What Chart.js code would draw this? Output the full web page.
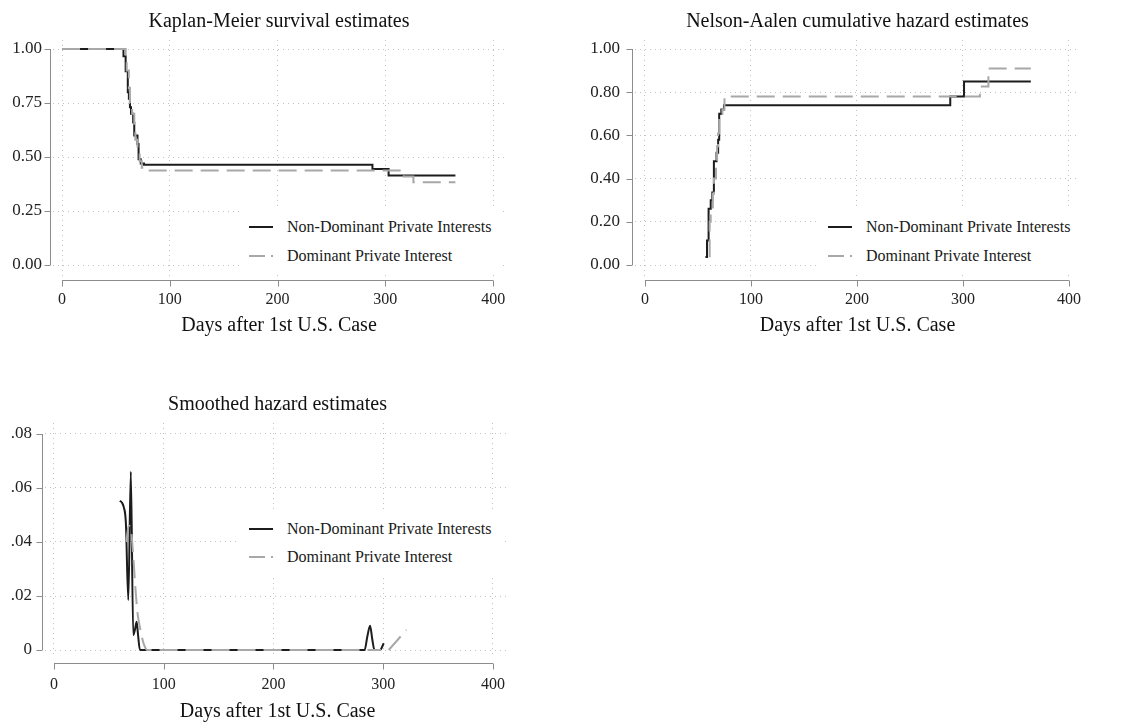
<!DOCTYPE html>
<html>
<head>
<meta charset="utf-8">
<script src="https://cdn.jsdelivr.net/npm/chart.js@4.4.0/dist/chart.umd.min.js"></script>
<style>
  body { margin: 0; background: #fff; width: 1129px; height: 722px; overflow: hidden; position: relative; font-family: "Liberation Serif", "Times New Roman", serif; }
  .panel { position: absolute; }
  .legend { position: absolute; background: #fff; }
  .legend .sw { position: absolute; width: 24px; height: 2px; }
  .legend .txt { position: absolute; font-size: 16px; line-height: 20px; color: #1a1a1a; white-space: nowrap; }
</style>
</head>
<body>
<canvas id="km" class="panel" width="560" height="345" style="left:0;top:0"></canvas>
<canvas id="na" class="panel" width="569" height="345" style="left:560px;top:0"></canvas>
<canvas id="sh" class="panel" width="560" height="341" style="left:0;top:383px"></canvas>

<script>
// series names
const seriesNames = ["Non-Dominant Private Interests", "Dominant Private Interest"];
const xTicks = [0, 100, 200, 300, 400];
const xTitle = "Days after 1st U.S. Case";

// Kaplan-Meier survival
const kmYTicks = [0, 0.25, 0.5, 0.75, 1];
const kmYLabels = ["0.00", "0.25", "0.50", "0.75", "1.00"];
const kmNonDomDays = [0, 57, 59, 61, 62, 63, 64, 66, 67, 70, 71, 73, 76, 288, 303, 365];
const kmNonDomSurv = [1.00, 0.966, 0.897, 0.80, 0.77, 0.73, 0.70, 0.66, 0.60, 0.56, 0.49, 0.47, 0.464, 0.444, 0.414, 0.414];
const kmDomDays = [0, 59, 60, 62, 63, 65, 67, 68, 70, 72, 74, 77, 317, 326, 365];
const kmDomSurv = [1.00, 0.97, 0.90, 0.82, 0.75, 0.70, 0.63, 0.58, 0.53, 0.48, 0.45, 0.438, 0.41, 0.383, 0.383];

// Nelson-Aalen cumulative hazard
const naYTicks = [0, 0.2, 0.4, 0.6, 0.8, 1];
const naYLabels = ["0.00", "0.20", "0.40", "0.60", "0.80", "1.00"];
const naNonDomDays = [57, 58.5, 60, 62, 63.5, 65, 67.5, 69, 70, 72, 74.5, 288, 301, 364];
const naNonDomHaz = [0.037, 0.114, 0.26, 0.30, 0.336, 0.48, 0.52, 0.58, 0.70, 0.72, 0.74, 0.78, 0.85, 0.85];
const naDomDays = [60, 61, 62, 64, 65, 67, 68, 69, 70, 73, 75, 316, 324, 364];
const naDomHaz = [0.04, 0.20, 0.26, 0.33, 0.40, 0.47, 0.55, 0.61, 0.70, 0.72, 0.78, 0.826, 0.91, 0.91];

// Smoothed hazard
const shYTicks = [0, 0.02, 0.04, 0.06, 0.08];
const shYLabels = ["0", ".02", ".04", ".06", ".08"];
const shNonDomDays = [60, 62, 63.5, 65.5, 67.7, 70, 72.2, 74, 75.3, 76.5, 78.3, 283, 285.5, 288, 290, 292, 297, 300.5];
const shNonDomHaz = [0.0553, 0.0545, 0.053, 0.047, 0.0185, 0.066, 0.0056, 0.008, 0.0105, 0.006, 0, 0, 0.005, 0.009, 0.004, 0, 0, 0.0025];
const shDomDays = [66, 68, 70, 72, 74, 76, 78, 80, 82, 85, 298, 299, 305, 321];
const shDomHaz = [0.040, 0.046, 0.045, 0.036, 0.024, 0.014, 0.009, 0.005, 0.002, 0, 0, null, 0, 0.0074];

const BLACK = "#1c1c1c";
const GREY = "#a8a8a8";
const FONT = "'Liberation Serif', 'Times New Roman', serif";

function pts(xs, ys) {
  return xs.map((x, i) => ({ x: x, y: ys[i] }));
}

// Stata-like axis lines, drawn apart from the plot region
const stataAxes = {
  id: "stataAxes",
  afterDraw(chart, args, opts) {
    const { ctx, chartArea } = chart;
    const x = chart.scales.x, y = chart.scales.y;
    ctx.save();
    ctx.strokeStyle = "#8c8c8c";
    ctx.lineWidth = 1;
    ctx.beginPath();
    const ax = Math.round(chartArea.left - opts.yGap) + 0.5;
    const yt = y.ticks;
    ctx.moveTo(ax, y.getPixelForValue(yt[0].value));
    ctx.lineTo(ax, y.getPixelForValue(yt[yt.length - 1].value));
    yt.forEach(t => {
      const p = Math.round(y.getPixelForValue(t.value)) + 0.5;
      ctx.moveTo(ax, p);
      ctx.lineTo(ax - 6, p);
    });
    const ay = Math.round(chartArea.bottom + opts.xGap) + 0.5;
    const xt = x.ticks;
    ctx.moveTo(x.getPixelForValue(xt[0].value), ay);
    ctx.lineTo(x.getPixelForValue(xt[xt.length - 1].value), ay);
    xt.forEach(t => {
      const p = Math.round(x.getPixelForValue(t.value)) + 0.5;
      ctx.moveTo(p, ay);
      ctx.lineTo(p, ay + 6);
    });
    ctx.stroke();
    ctx.restore();
  }
};

function makePanel(id, p) {
  return new Chart(document.getElementById(id), {
    type: "line",
    data: {
      datasets: [
        { label: seriesNames[0], data: p.black, borderColor: BLACK, borderWidth: 2, pointRadius: 0,
          stepped: p.stepped, cubicInterpolationMode: p.stepped ? "default" : "monotone", order: 1 },
        { label: seriesNames[1], data: p.grey, borderColor: GREY, borderWidth: 2, pointRadius: 0,
          borderDash: [18, 8], stepped: p.stepped, cubicInterpolationMode: p.stepped ? "default" : "monotone", order: 0 }
      ]
    },
    options: {
      responsive: false,
      animation: false,
      devicePixelRatio: 1,
      layout: { padding: { left: 0, right: p.padRight, top: 0, bottom: 0 } },
      plugins: {
        legend: { display: false },
        tooltip: { enabled: false },
        title: {
          display: true, text: p.title, fullSize: false, color: "#111",
          font: { family: FONT, size: 20, weight: "normal" },
          padding: { top: 10, bottom: 6 }
        },
        stataAxes: { xGap: p.xGap, yGap: 3 }
      },
      scales: {
        x: {
          type: "linear", min: p.xMin, max: p.xMax,
          afterBuildTicks: s => { s.ticks = xTicks.map(v => ({ value: v })); },
          afterFit: s => { s.height = p.xHeight; },
          grid: { color: "#c2c2c2", lineWidth: 1, drawTicks: false },
          border: { display: false, dash: [1, 4] },
          ticks: { color: "#222", padding: p.xPad, maxRotation: 0, font: { family: FONT, size: 16 } },
          title: { display: true, text: xTitle, color: "#111", font: { family: FONT, size: 20 }, padding: { top: 0, bottom: p.xTitlePad } }
        },
        y: {
          type: "linear", min: p.yMin, max: p.yMax,
          afterBuildTicks: s => { s.ticks = p.yTicks.map(v => ({ value: v })); },
          afterFit: s => { s.width = p.yWidth; },
          grid: { color: "#c2c2c2", lineWidth: 1, drawTicks: false },
          border: { display: false, dash: [1, 4] },
          ticks: { color: "#222", padding: p.yPad, font: { family: FONT, size: 17 },
                   callback: (v, i) => p.yLabels[i] }
        }
      }
    },
    plugins: [stataAxes]
  });
}

makePanel("km", {
  title: "Kaplan-Meier survival estimates", stepped: "before",
  black: pts(kmNonDomDays, kmNonDomSurv), grey: pts(kmDomDays, kmDomSurv),
  xMin: -8.4, xMax: 411, yMin: -0.0509, yMax: 1.0417,
  yTicks: kmYTicks, yLabels: kmYLabels,
  padRight: 55, yWidth: 53, yPad: 11, xHeight: 69, xPad: 14, xTitlePad: 7, xGap: 4
});

makePanel("na", {
  title: "Nelson-Aalen cumulative hazard estimates", stepped: "before",
  black: pts(naNonDomDays, naNonDomHaz), grey: pts(naDomDays, naDomHaz),
  xMin: -9.43, xMax: 410.4, yMin: -0.0509, yMax: 1.0417,
  yTicks: naYTicks, yLabels: naYLabels,
  padRight: 49, yWidth: 75, yPad: 15, xHeight: 69, xPad: 14, xTitlePad: 7, xGap: 4
});

makePanel("sh", {
  title: "Smoothed hazard estimates", stepped: false,
  black: pts(shNonDomDays, shNonDomHaz), grey: pts(shDomDays, shDomHaz),
  xMin: -8.2, xMax: 415.5, yMin: -0.00259, yMax: 0.08407,
  yTicks: shYTicks, yLabels: shYLabels,
  padRight: 50, yWidth: 45, yPad: 13, xHeight: 67, xPad: 18, xTitlePad: 0, xGap: 6
});

// legends drawn inside the plot regions, as in the original
function addLegend(left, top, rowGap) {
  const box = document.createElement("div");
  box.className = "legend";
  box.style.left = left + "px";
  box.style.top = top + "px";
  box.style.width = "262px";
  box.style.height = (rowGap + 34) + "px";
  seriesNames.forEach((name, i) => {
    const cy = 17 + i * rowGap;
    const sw = document.createElement("div");
    sw.className = "sw";
    sw.style.left = "9px";
    sw.style.top = (cy - 1) + "px";
    sw.style.background = i === 0 ? BLACK
      : "repeating-linear-gradient(to right, " + GREY + " 0 16px, transparent 16px 22px)";
    const tx = document.createElement("div");
    tx.className = "txt";
    tx.style.left = "47px";
    tx.style.top = (cy - 10) + "px";
    tx.textContent = name;
    box.appendChild(sw);
    box.appendChild(tx);
  });
  document.body.appendChild(box);
}
addLegend(240, 210, 29);
addLegend(819, 210, 29);
addLegend(240, 512, 28);
</script>
</body>
</html>
